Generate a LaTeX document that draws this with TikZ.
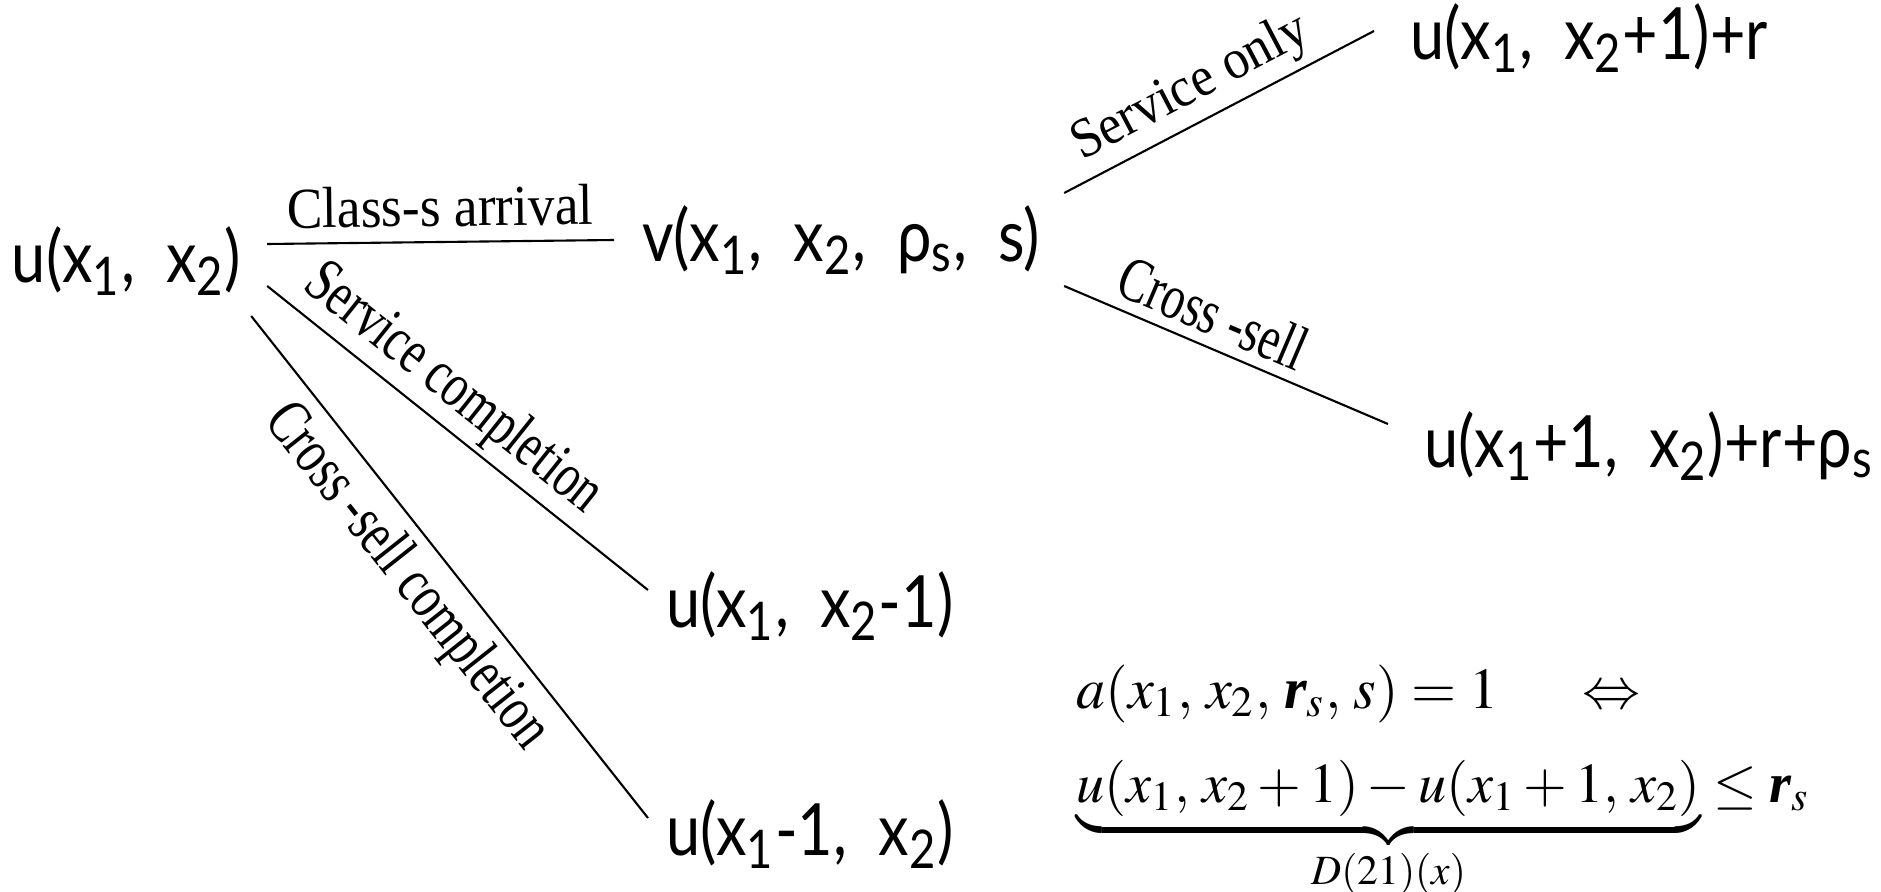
\documentclass[tikz,border=0pt]{standalone}
\usepackage{mathptmx}
\usepackage{amsmath}
\usepackage{fontspec}
\setmainfont{Liberation Serif}
\newfontfamily\statefont[FakeStretch=0.85]{Lato}
\newfontfamily\flatfont[FakeStretch=0.92]{Liberation Serif}
\newfontfamily\slopefont[FakeStretch=0.74]{Liberation Serif}

\begin{document}
\begin{tikzpicture}[
  state/.style={font=\statefont\fontsize{20.5}{24}\selectfont, inner sep=0pt, outer sep=0pt, anchor=west},
  edgelabel/.style={font=\slopefont\fontsize{18}{21}\selectfont, sloped, inner sep=3pt},
  flatlabel/.style={edgelabel, font=\flatfont\fontsize{16.5}{19}\selectfont, inner sep=4pt},
  branch/.style={line width=0.6pt},
]
  \useasboundingbox (0,0) rectangle (18.81,-8.92);

  % states
  \node[state] (uroot) at (0.12,-2.61) {u(x\textsubscript{1},\ \ x\textsubscript{2})};
  \node[state] (vstate) at (6.42,-2.40) {v(x\textsubscript{1},\ \ x\textsubscript{2},\ \ ρ\textsubscript{s},\ \ s)};
  \node[state] (uservice) at (14.10,-0.38) {u(x\textsubscript{1},\ \ x\textsubscript{2}+1)+r};
  \node[state] (ucross) at (14.24,-4.46) {u(x\textsubscript{1}+1,\ \ x\textsubscript{2})+r+ρ\textsubscript{s}};
  \node[state] (udone) at (6.66,-6.06) {u(x\textsubscript{1},\ \ x\textsubscript{2}-1)};
  \node[state] (ucsdone) at (6.66,-8.34) {u(x\textsubscript{1}-1,\ \ x\textsubscript{2})};

  % branches out of u(x1, x2)
  \draw[branch] ([shift={(0.26,0.17)}]uroot.east) -- ([xshift=-0.28cm]vstate.west)
    node[pos=0.5, above, flatlabel] (lblarrival) {Class-s arrival};
  \draw[branch] ([shift={(0.26,-0.25)}]uroot.east) -- ([shift={(-0.18,0.16)}]udone.west)
    node[pos=0.43, above, edgelabel, inner sep=1.5pt] (lblservdone) {Service completion};
  \draw[branch] ([shift={(0.10,-0.55)}]uroot.east) -- ([shift={(-0.18,0.16)}]ucsdone.west)
    node[pos=0.47, below, edgelabel] (lblcsdone) {Cross -sell completion};

  % branches out of v(x1, x2, rho_s, s)
  \draw[branch] ([shift={(0.24,0.47)}]vstate.east) -- ([shift={(-0.36,0.07)}]uservice.west)
    node[pos=0.46, above, flatlabel, font=\flatfont\fontsize{16}{19}\selectfont, inner sep=2pt] (lblservonly) {Service only};
  \draw[branch] ([shift={(0.24,-0.46)}]vstate.east) -- ([shift={(-0.36,0.22)}]ucross.west)
    node[pos=0.42, above, edgelabel] (lblcross) {Cross -sell};

  % admission condition
  \node[anchor=base west, inner sep=0pt, font=\fontsize{16.5}{19}\selectfont] (condition) at (10.76,-7.08)
    {$a(x_1,\,x_2,\,\mbox{\bfseries\itshape r}_s,\,s)=1\quad\;\Leftrightarrow$};
  \node[anchor=base west, inner sep=0pt, font=\fontsize{16}{19}\selectfont] (diffineq) at (10.76,-8.02)
    {$\underbrace{u(x_1,\,x_2+1)-u(x_1+1,\,x_2)}_{D(21)(x)}\le\mbox{\bfseries\itshape r}_s$};
\end{tikzpicture}
\end{document}
